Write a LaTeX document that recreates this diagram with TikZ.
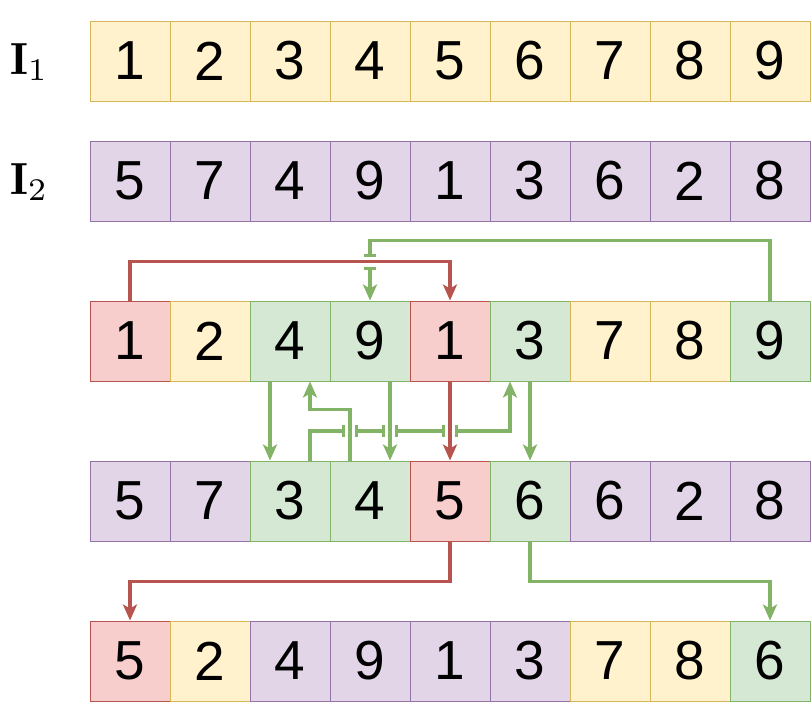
\documentclass[tikz,border=0pt]{standalone}
\usepackage{fontspec}
\newfontfamily\cellfont{Liberation Sans}
\usetikzlibrary{arrows.meta,calc}

\definecolor{yelfill}{HTML}{FFF2CC}
\definecolor{yelline}{HTML}{D6B656}
\definecolor{purfill}{HTML}{E1D5E7}
\definecolor{purline}{HTML}{9673A6}
\definecolor{grnfill}{HTML}{D5E8D4}
\definecolor{grnline}{HTML}{82B366}
\definecolor{redfill}{HTML}{F8CECC}
\definecolor{redline}{HTML}{B85450}

\tikzset{
  cell/.style={draw, line width=1pt, minimum width=80pt, minimum height=80pt,
    inner sep=0pt, font=\cellfont\fontsize{55}{60}\selectfont},
  cyel/.style={cell, fill=yelfill, draw=yelline},
  cpur/.style={cell, fill=purfill, draw=purline},
  cgrn/.style={cell, fill=grnfill, draw=grnline},
  cred/.style={cell, fill=redfill, draw=redline},
  tipend/.tip={Stealth[length=16pt,width=14pt,inset=4pt]},
  tipgap/.tip={Bar[width=12pt]},
  link/.style={line width=3.4pt, -tipend},
  linkred/.style={link, draw=redline},
  linkgrn/.style={link, draw=grnline},
  rowlabel/.style={anchor=base west, inner sep=0pt}
}

\begin{document}
\begin{tikzpicture}[x=1pt,y=-1pt]
  \useasboundingbox (0,0) rectangle (811,702);
  % row labels
  \node[rowlabel] (lab1) at (10,74) {\scalebox{4.5}{$\mathbf{I}_1$}};
  \node[rowlabel] (lab2) at (10,194) {\scalebox{4.5}{$\mathbf{I}_2$}};
  % the five rows of cells
  \foreach \v/\s [count=\i] in {1/cyel,2/cyel,3/cyel,4/cyel,5/cyel,6/cyel,7/cyel,8/cyel,9/cyel}
    \node[\s] (c1\i) at (50+80*\i,61) {\v};
  \foreach \v/\s [count=\i] in {5/cpur,7/cpur,4/cpur,9/cpur,1/cpur,3/cpur,6/cpur,2/cpur,8/cpur}
    \node[\s] (c2\i) at (50+80*\i,181) {\v};
  \foreach \v/\s [count=\i] in {1/cred,2/cyel,4/cgrn,9/cgrn,1/cred,3/cgrn,7/cyel,8/cyel,9/cgrn}
    \node[\s] (c3\i) at (50+80*\i,341) {\v};
  \foreach \v/\s [count=\i] in {5/cpur,7/cpur,3/cgrn,4/cgrn,5/cred,6/cgrn,6/cpur,2/cpur,8/cpur}
    \node[\s] (c4\i) at (50+80*\i,501) {\v};
  \foreach \v/\s [count=\i] in {5/cred,2/cyel,4/cpur,9/cpur,1/cpur,3/cpur,7/cyel,8/cyel,6/cgrn}
    \node[\s] (c5\i) at (50+80*\i,661) {\v};

  % above row 3
  \draw[linkred] (c31.north) -- ++(0,-39) -| (c35.north);
  \draw[linkgrn,-tipgap] (c39.north) -- ++(0,-60) -| (c34.north |- 0,257); % jump over red
  \draw[linkgrn,tipgap-tipend] (c34.north |- 0,267) -- (c34.north);

  % between rows 3 and 4
  \draw[linkgrn] ($(c33.south)+(-20,0)$) -- ($(c43.north)+(-20,0)$);
  \draw[linkgrn] ($(c44.north)+(-20,0)$) -- ++(0,-51) -| ($(c33.south)+(20,0)$);
  \draw[linkgrn,-tipgap] ($(c43.north)+(20,0)$) |- (345,431);
  \draw[linkgrn,tipgap-tipgap] (355,431) -- (385,431);
  \draw[linkgrn,tipgap-tipgap] (395,431) -- (445,431);
  \draw[linkgrn,tipgap-tipend] (455,431) -| ($(c36.south)+(-20,0)$);
  \draw[linkgrn] ($(c34.south)+(20,0)$) -- ($(c44.north)+(20,0)$);
  \draw[linkred] (c35.south) -- (c45.north);
  \draw[linkgrn] (c36.south) -- (c46.north);

  % between rows 4 and 5
  \draw[linkred] (c45.south) -- ++(0,40) -| (c51.north);
  \draw[linkgrn] (c46.south) -- ++(0,40) -| (c59.north);
\end{tikzpicture}
\end{document}
